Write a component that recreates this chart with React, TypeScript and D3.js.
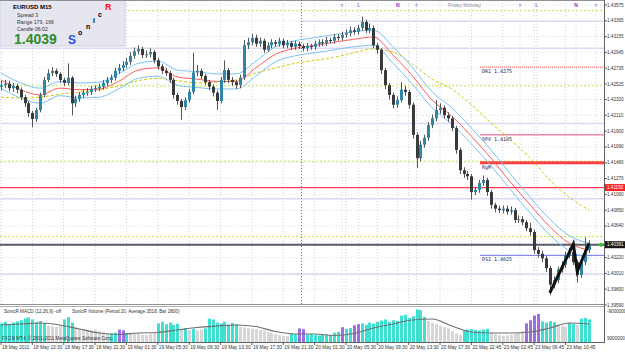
import React from "react";
import * as d3 from "d3";

// EURUSD M15 candles (one drawn bar per half hour)
const firstOpen = 1.4249;
const closes = [
  1.4251, 1.4253, 1.4247, 1.425, 1.4245, 1.4235, 1.4227, 1.4214, 1.4206, 1.4218,
  1.4238, 1.4258, 1.4267, 1.427, 1.4266, 1.4258, 1.4254, 1.4261, 1.4227, 1.4233,
  1.4238, 1.4241, 1.4242, 1.4246, 1.4247, 1.4249, 1.4254, 1.4258, 1.4261, 1.427,
  1.4274, 1.4278, 1.4282, 1.429, 1.4296, 1.4299, 1.4291, 1.4292, 1.4295, 1.4284,
  1.4276, 1.427, 1.4267, 1.4258, 1.4238, 1.423, 1.4222, 1.4231, 1.4242, 1.4268,
  1.427, 1.4263, 1.4255, 1.4249, 1.4241, 1.423, 1.4258, 1.4271, 1.4258, 1.4255,
  1.4251, 1.4261, 1.4304, 1.4308, 1.4314, 1.4306, 1.431, 1.4298, 1.4304, 1.4308,
  1.4306, 1.431, 1.4304, 1.4307, 1.4302, 1.4306, 1.4303, 1.43, 1.4303, 1.4302,
  1.4306, 1.4308, 1.4307, 1.4311, 1.431, 1.4315, 1.4314, 1.4318, 1.432, 1.4324,
  1.4322, 1.4327, 1.4335, 1.4324, 1.4327, 1.4304, 1.4298, 1.4271, 1.4251, 1.4238,
  1.4225, 1.4231, 1.4245, 1.4242, 1.4225, 1.4185, 1.4154, 1.4172, 1.4181, 1.4198,
  1.4207, 1.4218, 1.4221, 1.4211, 1.4207, 1.4194, 1.4165, 1.4138, 1.4133, 1.413,
  1.4109, 1.4112, 1.4121, 1.4125, 1.4109, 1.4092, 1.4087, 1.4085, 1.4087, 1.4083,
  1.4085, 1.4072, 1.4073, 1.4069, 1.4061, 1.4056, 1.4032, 1.4027, 1.4021, 1.4008,
  1.3986, 1.3992, 1.4006, 1.4012, 1.4025, 1.4029, 1.4016, 1.3999, 1.4016, 1.4032,
  1.4039,
];
const highs = [
  1.4257, 1.4258, 1.4257, 1.4254, 1.4253, 1.4248, 1.4238, 1.423, 1.4217, 1.4221,
  1.4241, 1.4262, 1.4272, 1.4275, 1.4273, 1.4268, 1.4261, 1.428, 1.4263, 1.4237,
  1.4242, 1.4245, 1.4247, 1.425, 1.4251, 1.4253, 1.4258, 1.4262, 1.4265, 1.4274,
  1.4279, 1.4283, 1.4287, 1.4295, 1.4301, 1.4304, 1.4302, 1.4297, 1.43, 1.4298,
  1.4287, 1.4279, 1.4274, 1.427, 1.4261, 1.4241, 1.4233, 1.4235, 1.4246, 1.4294,
  1.4278, 1.4273, 1.4266, 1.4258, 1.4252, 1.4244, 1.4262, 1.4284, 1.4274, 1.4262,
  1.4258, 1.4265, 1.4311, 1.4314, 1.4319, 1.4318, 1.4314, 1.4313, 1.4308, 1.4312,
  1.4311, 1.4314, 1.4313, 1.4311, 1.431, 1.431, 1.4309, 1.4306, 1.4307, 1.4306,
  1.431, 1.4312, 1.4312, 1.4315, 1.4314, 1.4319, 1.4319, 1.4322, 1.4325, 1.4329,
  1.4328, 1.4331, 1.4342, 1.4338, 1.4333, 1.433, 1.4307, 1.43, 1.4274, 1.4254,
  1.4241, 1.4236, 1.4255, 1.425, 1.4245, 1.4228, 1.4188, 1.4177, 1.4185, 1.4202,
  1.4212, 1.4231, 1.4227, 1.4224, 1.4215, 1.421, 1.4197, 1.4168, 1.4142, 1.4137,
  1.4133, 1.4116, 1.4125, 1.4131, 1.4128, 1.4112, 1.4095, 1.4091, 1.4091, 1.4091,
  1.409, 1.4088, 1.4078, 1.4077, 1.4072, 1.4068, 1.4059, 1.4036, 1.4031, 1.4024,
  1.4011, 1.3997, 1.401, 1.4017, 1.403, 1.4035, 1.4032, 1.4019, 1.402, 1.4049,
  1.4045,
];
const lows = [
  1.4244, 1.4247, 1.4243, 1.4242, 1.424, 1.4231, 1.4222, 1.4209, 1.4195, 1.4202,
  1.4215, 1.4235, 1.4255, 1.4263, 1.4262, 1.4254, 1.425, 1.4251, 1.4211, 1.4222,
  1.4229, 1.4234, 1.4237, 1.4238, 1.4242, 1.4243, 1.4245, 1.425, 1.4254, 1.4257,
  1.4266, 1.427, 1.4274, 1.4278, 1.4286, 1.4292, 1.4287, 1.4287, 1.4288, 1.428,
  1.4272, 1.4266, 1.4263, 1.4254, 1.4233, 1.4225, 1.4205, 1.4218, 1.4228, 1.4239,
  1.4263, 1.4259, 1.4251, 1.4244, 1.4236, 1.4218, 1.4227, 1.4254, 1.4254, 1.425,
  1.4246, 1.4247, 1.4258, 1.4299, 1.4304, 1.4302, 1.4302, 1.4294, 1.4295, 1.43,
  1.4302, 1.4302, 1.43, 1.43, 1.4298, 1.4298, 1.4299, 1.4296, 1.4296, 1.4298,
  1.4298, 1.4302, 1.4303, 1.4303, 1.4306, 1.4306, 1.431, 1.431, 1.4314, 1.4316,
  1.4318, 1.4318, 1.4323, 1.432, 1.432, 1.43, 1.4293, 1.4266, 1.4246, 1.4232,
  1.422, 1.4221, 1.4228, 1.4237, 1.422, 1.418, 1.4141, 1.415, 1.4168, 1.4177,
  1.4194, 1.4203, 1.4213, 1.4207, 1.4202, 1.419, 1.416, 1.4133, 1.4128, 1.4125,
  1.4099, 1.4105, 1.4108, 1.4117, 1.4104, 1.4087, 1.4082, 1.4081, 1.4081, 1.4079,
  1.4079, 1.4068, 1.4068, 1.4065, 1.4057, 1.4051, 1.4027, 1.4022, 1.4016, 1.4003,
  1.3972, 1.3981, 1.3988, 1.4002, 1.4008, 1.4021, 1.4012, 1.3989, 1.3995, 1.4012,
  1.4028,
];

// SonicR volume histogram
const volumes = [
  4800, 5200, 4600, 5000, 5300, 5600, 6100, 6300, 5800, 5100,
  5400, 4900, 4200, 4000, 3900, 4100, 5800, 6400, 5000, 3600,
  3400, 3300, 3100, 3000, 3200, 2800, 2500, 2300, 2200, 2400,
  3200, 3000, 2300, 2100, 2000, 2200, 1900, 1800, 2000, 2200,
  4800, 5200, 4600, 5000, 4400, 4700, 3300, 3600, 3100, 3400,
  3000, 3200, 3500, 6000, 5800, 5000, 4800, 5200, 4500, 4900,
  4600, 3900, 3700, 3600, 3400, 3300, 3100, 3000, 2600, 2300,
  2000, 1800, 1600, 1500, 2200, 2000, 3500, 3300, 1900, 2100,
  1800, 1700, 2000, 1900, 1800, 2400, 2600, 3800, 3400, 3600,
  4300, 4600, 4800, 4400, 5000, 4700, 5200, 5500, 5800, 5200,
  5600, 5400, 6800, 7000, 6200, 6600, 8400, 8200, 6500, 5400,
  5000, 4600, 4200, 3800, 3500, 2800, 2200, 1800, 3000, 3200,
  3300, 3100, 3000, 3200, 3400, 2400, 2000, 1800, 1600, 1700,
  1900, 2100, 2300, 2800, 4800, 5600, 6800, 7200, 5300, 5000,
  5400, 5100, 4300, 4100, 3900, 4900, 4600, 4400, 6000, 6200,
  5800,
];
// t = rising, g = falling, v = climax
const volKind =
  "tttttttttttt" + "gggg" + "ttt" + "ggggggggg" + "tt" + "vv" + "t" + "ggggggg" +
  "tttttt" + "gtgtggt" + "tttttttt" + "ggggggggggggg" + "tt" + "vv" + "ttttttttt" +
  "vttvv" + "ttttttttttttttttt" + "gggggggg" + "g" + "ttttttt" + "ggggggggg" +
  "vvvv" + "tttt" + "ggg" + "ttgttt";

// indicator lines sampled every 5 bars
const maStep = 5;
const emaMid = [
  1.4258, 1.4245, 1.4238, 1.4247, 1.4245, 1.4246, 1.4256, 1.4271, 1.4274, 1.4262,
  1.4259, 1.4256, 1.4256, 1.4274, 1.4292, 1.43, 1.4304, 1.4308, 1.4312, 1.4315,
  1.4291, 1.4263, 1.4231, 1.421, 1.4183, 1.4154, 1.4122, 1.4092, 1.4063, 1.4041,
  1.4032,
];
const emaHigh = [
  1.4267, 1.4254, 1.4247, 1.4256, 1.4254, 1.4255, 1.4266, 1.428, 1.4283, 1.4271,
  1.4269, 1.4266, 1.4266, 1.4283, 1.4302, 1.431, 1.4314, 1.4318, 1.4322, 1.4324,
  1.4302, 1.4274, 1.4242, 1.4221, 1.4194, 1.4165, 1.4133, 1.4102, 1.4073, 1.4051,
  1.4041,
];
const emaLow = [
  1.4247, 1.4234, 1.4227, 1.4237, 1.4234, 1.4235, 1.4246, 1.426, 1.4263, 1.4251,
  1.4248, 1.4246, 1.4246, 1.4263, 1.4282, 1.429, 1.4294, 1.4298, 1.4302, 1.4304,
  1.428, 1.4252, 1.4221, 1.4199, 1.4173, 1.4144, 1.4112, 1.4081, 1.4052, 1.4031,
  1.4021,
];
const emaSlow = [
  1.4235, 1.4234, 1.4235, 1.4239, 1.4242, 1.4245, 1.425, 1.4257, 1.426, 1.4257,
  1.4254, 1.4255, 1.4258, 1.4267, 1.4274, 1.428, 1.4284, 1.4288, 1.4294, 1.4299,
  1.4295, 1.4279, 1.4259, 1.4246, 1.4225, 1.4201, 1.4178, 1.4154, 1.4125, 1.4102,
  1.4085,
];
const volAvg = [
  4370, 4630, 4880, 4370, 3340, 2310, 1930, 2310, 2440, 3080,
  3730, 4110, 4370, 3980, 2700, 2060, 2060, 1670, 2180, 3600,
  4630, 5650, 5910, 4110, 2570, 2310, 2310, 2570, 3600, 4880,
  4630,
];

const zigIdx = [140, 146, 147, 150];
const zigPrice = [1.3975, 1.404, 1.40035, 1.4041];

const priceTicks = [
  "1.43575", "1.43365", "1.43155", "1.42945", "1.42735", "1.42525", "1.42320",
  "1.42110", "1.41900", "1.41690", "1.41480", "1.41270", "1.41060", "1.40850",
  "1.40640", "1.40430", "1.40220", "1.40010", "1.39800", "1.39590",
];
const timeLabels = [
  "18 May 2011", "18 May 13:30", "18 May 17:30", "18 May 21:30", "19 May 01:30",
  "19 May 05:30", "19 May 09:30", "19 May 13:30", "19 May 17:30", "19 May 21:30",
  "20 May 01:30", "20 May 05:30", "20 May 09:30", "20 May 13:30", "20 May 17:30",
  "22 May 22:45", "23 May 02:45", "23 May 06:45", "23 May 10:45",
];
const halfLevels = [1.435, 1.425, 1.415, 1.405];
const wholeLevels = [1.43, 1.42, 1.41, 1.4];
const prevDayHigh = 1.4336;
const pivotNames = ["DR1", "DPV", "RgM", "DS1"];
const pivotPrices = [1.4275, 1.4185, 1.4148, 1.4025];
const sessionMarks = [">", "L", "N", "<", ">", "L", "N", "<"];
const sessionBars = [87, 91.3, 101.2, 106, 132.4, 136.7, 146.7, 151.8];
const lastBid = 1.40391;
const alertPrice = 1.4115;

const W = 625;
const H = 352;
const AXIS_X = 604;
const FONT = "Liberation Sans, Arial, sans-serif";

export default function App() {
  const n = closes.length;
  const x = d3.scaleLinear().domain([0, n - 1]).range([1, 589]);
  const y = d3.scaleLinear().domain([1.3959, 1.43575]).range([305, 5]);
  const vy = d3.scaleLinear().domain([0, 9000]).range([342, 307]);

  const candles = closes.map((c, i) => ({
    i,
    o: i === 0 ? firstOpen : closes[i - 1],
    c,
    h: highs[i],
    l: lows[i],
  }));

  const maLine = d3
    .line<number>()
    .x((_, k) => x(k * maStep))
    .y((d) => y(d))
    .curve(d3.curveMonotoneX);
  const volLine = d3
    .line<number>()
    .x((_, k) => x(k * maStep))
    .y((d) => vy(d))
    .curve(d3.curveMonotoneX);
  const zigLine = d3
    .line<number>()
    .x((_, k) => x(zigIdx[k]))
    .y((d) => y(d));

  const kindColor: Record<string, string> = { t: "#40E0D0", g: "#D6D6D6", v: "#9B6FE0" };
  const pivotColor = ["#FF5050", "#E0507A", "#FF4040", "#7070F0"];
  const pivotWidth = [1, 1, 3, 1];

  const midnight = x(76.65);
  // tick labels hidden behind the price boxes
  const visibleTicks = priceTicks.filter(
    (t) => Math.abs(y(+t) - y(lastBid)) > 5 && Math.abs(y(+t) - y(alertPrice)) > 5
  );

  return (
    <svg
      width={W}
      height={H}
      style={{ position: "fixed", left: 0, top: 0, background: "#fff" }}
      fontFamily={FONT}
    >
      <defs>
        <clipPath id="main">
          <rect x={0} y={2} width={AXIS_X} height={302} />
        </clipPath>
      </defs>
      <rect x={0} y={0} width={W} height={H} fill="#fff" />

      {/* grid */}
      <g clipPath="url(#main)">
        {priceTicks.map((t) => (
          <line
            key={t}
            x1={0}
            x2={AXIS_X}
            y1={y(+t)}
            y2={y(+t)}
            stroke="#DCDCE4"
            strokeDasharray="1,2"
          />
        ))}
        {timeLabels.map((t, k) => (
          <line
            key={t}
            x1={x(k * 8)}
            x2={x(k * 8)}
            y1={0}
            y2={305}
            stroke="#D0D0D8"
            strokeDasharray="1,2"
          />
        ))}
        {sessionBars.map((b, k) => (
          <line
            key={k}
            x1={x(b)}
            x2={x(b)}
            y1={0}
            y2={305}
            stroke="#D8D0E8"
            strokeDasharray="1,2"
          />
        ))}
        {wholeLevels.map((p) => (
          <line
            key={p}
            x1={0}
            x2={AXIS_X}
            y1={y(p)}
            y2={y(p)}
            stroke="#DADAF2"
            strokeWidth={1.5}
          />
        ))}
        <line
          x1={x(76.65)}
          x2={AXIS_X}
          y1={y(prevDayHigh)}
          y2={y(prevDayHigh)}
          stroke="#DADAF2"
          strokeWidth={1.5}
        />
        {halfLevels.map((p) => (
          <line
            key={p}
            x1={0}
            x2={AXIS_X}
            y1={y(p)}
            y2={y(p)}
            stroke="#B4F03C"
            strokeDasharray="2,2"
          />
        ))}
        <line x1={midnight} x2={midnight} y1={0} y2={342} stroke="#C040E0" strokeDasharray="1,2" />

        {/* pivot levels */}
        {pivotPrices.map((p, k) => (
          <g key={pivotNames[k]}>
            <line
              x1={480}
              x2={AXIS_X}
              y1={y(p)}
              y2={y(p)}
              stroke={pivotColor[k]}
              strokeWidth={pivotWidth[k]}
              strokeDasharray={k === 0 ? "1,1" : undefined}
            />
            <text
              x={482}
              y={y(p) + 6}
              fontSize={5}
              fontFamily="DejaVu Sans Mono, monospace"
              fill="#202060"
            >
              {k === 2 ? pivotNames[k] : `${pivotNames[k]}  ${p.toFixed(4)}`}
            </text>
          </g>
        ))}
        <line x1={0} x2={AXIS_X} y1={y(alertPrice)} y2={y(alertPrice)} stroke="#FF3850" strokeWidth={1.2} />
        <line x1={0} x2={AXIS_X} y1={y(lastBid)} y2={y(lastBid)} stroke="#5A5A6A" strokeWidth={2} />

        {/* moving averages */}
        <path d={maLine(emaSlow) ?? ""} fill="none" stroke="#D8C800" strokeWidth={1} strokeDasharray="3,2" />
        <path d={maLine(emaHigh) ?? ""} fill="none" stroke="#7CC0F4" strokeWidth={1} />
        <path d={maLine(emaLow) ?? ""} fill="none" stroke="#7CC0F4" strokeWidth={1} />
        <path d={maLine(emaMid) ?? ""} fill="none" stroke="#FF5A5A" strokeWidth={1} />

        {/* candles */}
        {candles.map((d) => {
          const cx = Math.round(x(d.i));
          const top = y(Math.max(d.o, d.c));
          const bot = y(Math.min(d.o, d.c));
          const up = d.c >= d.o;
          return (
            <g key={d.i}>
              <line x1={cx + 0.5} x2={cx + 0.5} y1={y(d.h)} y2={y(d.l)} stroke="#555" strokeWidth={1} />
              <rect
                x={cx - 1}
                y={top}
                width={3}
                height={Math.max(1, bot - top)}
                fill={up ? "#2F86A8" : "#3A3A3A"}
              />
            </g>
          );
        })}

        {/* zigzag */}
        <path d={zigLine(zigPrice) ?? ""} fill="none" stroke="#111" strokeWidth={3} strokeLinejoin="miter" />
      </g>

      {/* session markers */}
      {sessionMarks.map((m, k) => (
        <text
          key={k}
          x={x(sessionBars[k])}
          y={7}
          fontSize={5}
          fontWeight="bold"
          fill={m === "N" ? "#8A3CD8" : "#B070E8"}
          textAnchor="middle"
        >
          {m}
        </text>
      ))}
      <text x={448} y={7} fontSize={5} fill="#9090A0">
        Friday Monday
      </text>

      {/* info panel */}
      <rect x={0} y={0} width={125} height={46} fill="#E6E6F0" stroke="#D0D0DC" />
      <text x={13} y={9} fontSize={6} fontWeight="bold" fill="#000">
        EURUSD   M15
      </text>
      <text x={17} y={17} fontSize={5.2} fill="#333">Spread  3</text>
      <text x={17} y={24} fontSize={5.2} fill="#333">Range  179, 166</text>
      <text x={17} y={31} fontSize={5.2} fill="#333">Candle  06:02</text>
      <text x={14} y={44} fontSize={14} fontWeight="bold" fill="#2E8B2E">1.4039</text>
      <text x={68} y={44} fontSize={12} fontWeight="bold" fill="#2F50E0">S</text>
      <text x={78} y={35} fontSize={7} fontWeight="bold" fill="#000">o</text>
      <text x={86} y={29} fontSize={7} fontWeight="bold" fill="#000">n</text>
      <text x={93} y={23} fontSize={7} fontWeight="bold" fill="#000">i</text>
      <text x={98} y={17} fontSize={7} fontWeight="bold" fill="#000">c</text>
      <text x={105} y={10} fontSize={9} fontWeight="bold" fill="#FF1010">R</text>

      {/* volume sub-window */}
      {volumes.map((v, i) => (
        <rect
          key={i}
          x={Math.round(x(i)) - 1}
          y={vy(v)}
          width={3}
          height={vy(0) - vy(v)}
          fill={kindColor[volKind[i]]}
        />
      ))}
      <path d={volLine(volAvg) ?? ""} fill="none" stroke="#707070" strokeWidth={1.2} />
      <text x={4} y={313} fontSize={4.6} fill="#333">SonicR MACD (12,26,9) -off</text>
      <text x={72} y={313} fontSize={4.6} fill="#333">
        SonicR Volume (Period 20, Average 3518, Bar 2800)
      </text>
      <text x={2} y={340} fontSize={4.6} fill="#333">
        FXCM MT4, © 2001-2011 MetaQuotes Software Corp.
      </text>

      {/* frames */}
      <line x1={0} x2={AXIS_X} y1={304.5} y2={304.5} stroke="#909090" strokeWidth={1} />
      <line x1={0} x2={AXIS_X} y1={306.5} y2={306.5} stroke="#B0B0B0" strokeWidth={1} />
      <line x1={0} x2={AXIS_X} y1={342.5} y2={342.5} stroke="#606060" strokeWidth={1} />
      <line x1={AXIS_X + 0.5} x2={AXIS_X + 0.5} y1={0} y2={343} stroke="#606060" strokeWidth={1} />
      <line x1={0} x2={AXIS_X} y1={0.5} y2={0.5} stroke="#909090" strokeWidth={1} />

      {/* price axis */}
      {priceTicks.map((t) => (
        <line key={t} x1={AXIS_X} x2={AXIS_X + 3} y1={y(+t)} y2={y(+t)} stroke="#606060" />
      ))}
      {visibleTicks.map((t) => (
        <text key={t} x={607} y={y(+t) + 1.5} fontSize={4.6} fill="#333">
          {t}
        </text>
      ))}
      <rect x={605} y={y(alertPrice) - 3.5} width={20} height={7} fill="#FF2020" />
      <text x={607} y={y(alertPrice) + 1.7} fontSize={4.6} fill="#fff">1.41150</text>
      <rect x={605} y={y(lastBid) - 3.5} width={20} height={7} fill="#1A1A1A" />
      <text x={607} y={y(lastBid) + 1.7} fontSize={4.6} fill="#fff">1.40391</text>
      <circle cx={601} cy={y(lastBid)} r={2} fill="#22CC22" />
      <text x={607} y={vy(9000) + 5.5} fontSize={4.6} fill="#333">-9000000</text>
      <text x={607} y={vy(0) - 2} fontSize={4.6} fill="#333">9000000</text>

      {/* time axis */}
      {timeLabels.map((t, k) => (
        <g key={t}>
          <line x1={x(k * 8)} x2={x(k * 8)} y1={342} y2={345} stroke="#606060" />
          <text x={x(k * 8) + 1} y={349} fontSize={4.8} fill="#333">
            {t}
          </text>
        </g>
      ))}
    </svg>
  );
}
